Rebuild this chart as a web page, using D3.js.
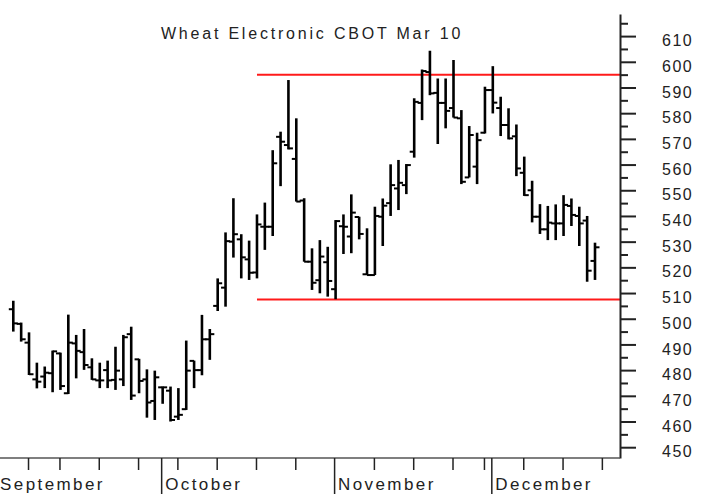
<!DOCTYPE html>
<html>
<head>
<meta charset="UTF-8">
<title>Wheat Electronic CBOT Mar 10</title>
<script src="https://d3js.org/d3.v7.min.js"></script>
<style>
  body { margin: 0; background: #fff; }
  svg text { font-family: "Liberation Sans", Arial, sans-serif; fill: #222; }
</style>
</head>
<body>
<svg></svg>
<script>
  // daily bars, index 0 = first session shown (early September)
  let opens = [503.7, 498, 490.7, 476.4, 477.5, 478.8, 486.5, 471, 490.4, 487,
    481.1, 476, 480, 476.2, 476.4, 494, 484.2, 476.4, 468, 473.3,
    472, 461.9, 464.8, 483.6, 480, 492, 505, 512.1, 530, 530.9,
    523.1, 518, 535.8, 535.8, 570.8, 567.6, 562.2, 546, 522.2, 515,
    522, 511.5, 536, 532, 539.6, 517.3, 517, 539.7, 545, 550.7,
    552, 565, 584, 596, 587.9, 584, 582, 578, 555, 559.2,
    572.4, 589, 582, 575.4, 571, 556.8, 550, 539.7, 534.8, 537.1,
    537.1, 543.9, 540, 538.2, 522.5];
  let highs = [507, 498.5, 494.7, 482.9, 481.4, 487.6, 486.8, 501.6, 493.7, 496,
    484.6, 482.9, 483.7, 489.1, 493.7, 496.9, 484.4, 480.3, 479.8, 473.6,
    473.6, 473, 491.5, 483.7, 501.5, 496, 515.7, 533.6, 546.9, 532.9,
    530.4, 540.6, 545.2, 565.6, 572.8, 592.9, 578, 546.9, 527.4, 530.6,
    528, 538.4, 540.6, 548.4, 539.7, 535.2, 543.6, 546.8, 560.1, 561.8,
    560.2, 585.8, 597, 604.3, 593.5, 593.5, 600.7, 581.2, 575, 572.4,
    590.3, 598.3, 586.4, 581.9, 575.6, 563.1, 553.7, 544.6, 543.9, 544.5,
    548.1, 546.8, 543.6, 540, 529.6];
  let lows = [495, 491.1, 478.1, 472.9, 473, 471.4, 472.3, 470.7, 476.8, 480.1,
    476.2, 473, 473, 472.3, 473.8, 468.4, 471, 461.5, 460.6, 466.9,
    460, 460.6, 464.5, 473, 478, 484, 503, 504.7, 523.8, 515.7,
    515.1, 515.7, 526.8, 532.2, 551.6, 565.9, 545.6, 522.2, 511.2, 509.9,
    508.6, 507.6, 525.2, 525.5, 530.9, 517, 517, 528.3, 540, 542.3,
    548.5, 562.7, 577.3, 587, 568, 574.1, 578.3, 552.4, 555, 552.4,
    572.1, 579.9, 571.1, 569.8, 555.5, 547.8, 537.5, 533, 530.6, 530.6,
    532.2, 536.1, 528.3, 514.4, 515.1];
  let closes = [498.2, 492, 478.4, 475.5, 479, 487.3, 473.8, 490.7, 487.5, 482,
    476.4, 476, 476, 479.8, 492.8, 470.1, 475.8, 467.4, 477.2, 473.3,
    460.6, 462.6, 479.8, 480, 492, 494, 513.8, 530.2, 532.9, 523.9,
    517.9, 536.7, 535.8, 560.5, 568.9, 566.3, 545.6, 522.2, 514, 524.2,
    514.7, 538, 535.8, 541.3, 533, 517, 540, 544, 552, 552.9,
    559.8, 584.4, 596.4, 587.7, 584, 580.9, 578.3, 553.3, 571.5, 569.5,
    589, 584.1, 575.4, 570.2, 558.5, 548.1, 539.7, 534.8, 537.4, 537.1,
    544.3, 540.4, 537.1, 518.7, 527.8];

  let monthLabels = ["September", "October", "November", "December"];
  let monthStarts = [-2, 19, 41, 61];
  let weekStarts = [2, 6, 11, 16, 21, 26, 31, 36, 46, 51, 56, 60, 65, 70, 75];
  let majorTicks = d3.range(450, 611, 10);
  let minorTicks = d3.range(455, 616, 10);
  let levels = [595, 507.5];
  let levelFrom = 31;

  let width = 708,
    height = 494;

  let bars = opens.map((o, i) => ({ i: i, o: o, h: highs[i], l: lows[i], c: closes[i] }));

  let svg = d3.select("svg")
    .attr("width", width)
    .attr("height", height);

  let x = d3.scaleLinear().domain([0, 74]).range([13.3, 595]);
  let y = d3.scaleLinear().domain([445.8, 618.6]).range([458, 14]);

  let axisX = 620,
    axisY = 458;

  // title
  svg.append("text")
    .attr("x", 312)
    .attr("y", 39)
    .attr("text-anchor", "middle")
    .style("font-size", "16px")
    .style("letter-spacing", "2.8px")
    .text("Wheat Electronic CBOT Mar 10");

  // support / resistance lines
  svg.append("g")
    .selectAll("line")
    .data(levels)
    .enter()
    .append("line")
    .attr("x1", x(levelFrom))
    .attr("x2", axisX)
    .attr("y1", d => y(d))
    .attr("y2", d => y(d))
    .attr("stroke", "#ff1a1a")
    .attr("stroke-width", 2);

  // OHLC bars
  let g = svg.append("g").attr("stroke", "#000");
  g.selectAll(".hl")
    .data(bars)
    .enter()
    .append("line")
    .attr("x1", d => x(d.i))
    .attr("x2", d => x(d.i))
    .attr("y1", d => y(d.h))
    .attr("y2", d => y(d.l))
    .attr("stroke-width", 2.6);
  g.selectAll(".op")
    .data(bars)
    .enter()
    .append("line")
    .attr("x1", d => x(d.i) - 4.5)
    .attr("x2", d => x(d.i))
    .attr("y1", d => y(d.o))
    .attr("y2", d => y(d.o))
    .attr("stroke-width", 2);
  g.selectAll(".cl")
    .data(bars)
    .enter()
    .append("line")
    .attr("x1", d => x(d.i))
    .attr("x2", d => x(d.i) + 4.5)
    .attr("y1", d => y(d.c))
    .attr("y2", d => y(d.c))
    .attr("stroke-width", 2);

  // price axis on the right
  let yMajor = d3.axisRight(y)
    .tickValues(majorTicks)
    .tickSize(16)
    .tickSizeOuter(0)
    .tickPadding(26);
  let yAxis = svg.append("g")
    .attr("transform", "translate(" + axisX + ",0)")
    .call(yMajor);
  yAxis.selectAll("text")
    .attr("dy", "0.6em")
    .style("font-size", "16px")
    .style("letter-spacing", "1.5px");

  let yMinor = d3.axisRight(y)
    .tickValues(minorTicks)
    .tickSize(8)
    .tickSizeOuter(0)
    .tickFormat("");
  svg.append("g")
    .attr("transform", "translate(" + axisX + ",0)")
    .call(yMinor)
    .select(".domain").remove();

  yAxis.selectAll("path, line").attr("stroke", "#222").attr("stroke-width", 2);
  svg.selectAll("g line").filter(function() { return this.parentNode.classList.contains("tick"); })
    .attr("stroke", "#222").attr("stroke-width", 2);

  // time axis at the bottom
  svg.append("line")
    .attr("x1", 0)
    .attr("x2", axisX)
    .attr("y1", axisY)
    .attr("y2", axisY)
    .attr("stroke", "#555")
    .attr("stroke-width", 1.5);

  let xWeeks = d3.axisBottom(x)
    .tickValues(weekStarts)
    .tickSize(12)
    .tickFormat("");
  svg.append("g")
    .attr("transform", "translate(-1," + axisY + ")")
    .call(xWeeks)
    .call(a => a.select(".domain").remove())
    .selectAll("line").attr("stroke", "#222").attr("stroke-width", 1.5);

  let xMonths = d3.axisBottom(x)
    .tickValues(monthStarts)
    .tickSize(36)
    .tickFormat("");
  svg.append("g")
    .attr("transform", "translate(-1.5," + axisY + ")")
    .call(xMonths)
    .call(a => a.select(".domain").remove())
    .selectAll("line").attr("stroke", "#222").attr("stroke-width", 1.5);

  svg.append("g")
    .selectAll("text")
    .data(monthLabels)
    .enter()
    .append("text")
    .attr("x", (d, k) => x(monthStarts[k]) + 2.5)
    .attr("y", 490)
    .style("font-size", "17px")
    .style("letter-spacing", "2.4px")
    .text(d => d);
</script>
</body>
</html>
